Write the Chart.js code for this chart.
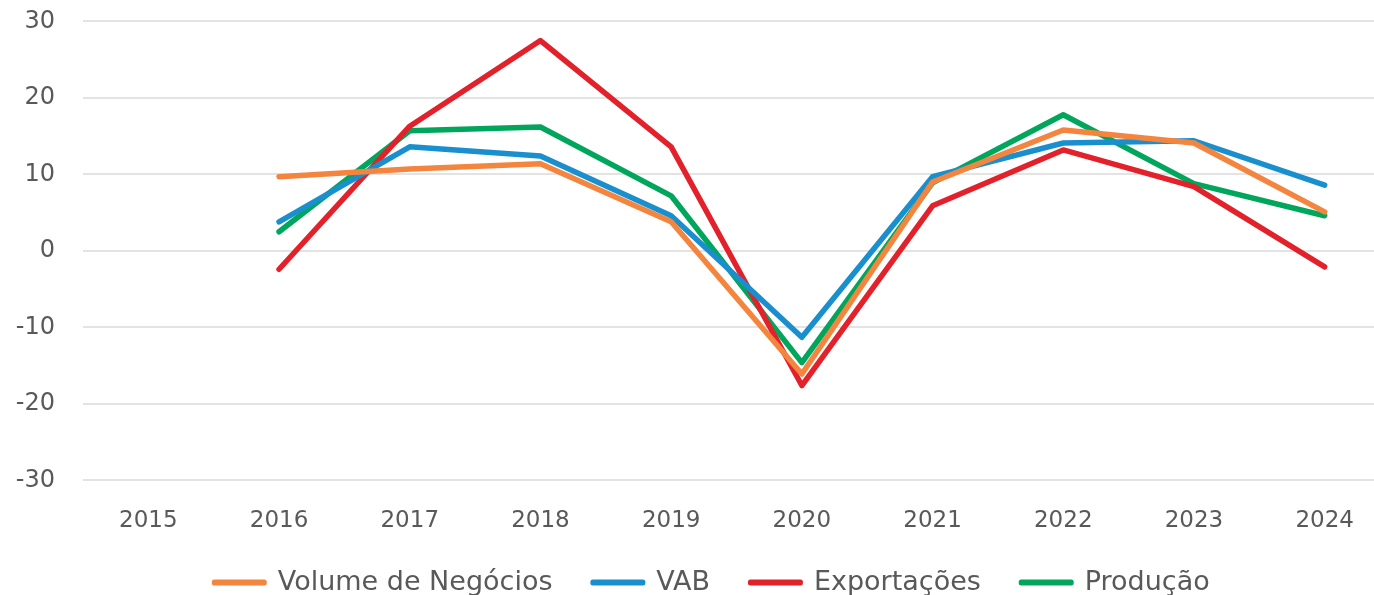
<!DOCTYPE html>
<html>
<head>
<meta charset="utf-8">
<script src="https://cdn.jsdelivr.net/npm/chart.js@4"></script>
<style>
  html, body { margin: 0; padding: 0; background: #fff; overflow: hidden; }
  #wrap { width: 1390px; height: 618px; margin-top: -21px; position: relative; }
</style>
</head>
<body>
<div id="wrap"><canvas id="myChart"></canvas></div>
<script>
const years = ['2015', '2016', '2017', '2018', '2019', '2020', '2021', '2022', '2023', '2024'];

const volumeNegocios = [null, 9.7, 10.7, 11.4, 3.8, -16.1, 9.0, 15.8, 14.1, 5.1];
const vab = [null, 3.8, 13.6, 12.4, 4.6, -11.3, 9.7, 14.1, 14.4, 8.6];
const exportacoes = [null, -2.4, 16.3, 27.5, 13.6, -17.6, 5.9, 13.2, 8.4, -2.1];
const producao = [null, 2.5, 15.7, 16.2, 7.2, -14.6, 8.9, 17.8, 8.8, 4.6];

const yTicks = [-30, -20, -10, 0, 10, 20, 30];

const textColor = '#595959';

function line(label, values, color) {
    return {
        label: label,
        data: values,
        borderColor: color,
        backgroundColor: color,
        borderWidth: 5.5,
        pointRadius: 0,
        tension: 0,
        borderCapStyle: 'round',
        borderJoinStyle: 'round'
    };
}

const data = {
    labels: years,
    datasets: [
        line('Volume de Negócios', volumeNegocios, '#F4853F'),
        line('VAB', vab, '#1A8FCE'),
        line('Exportações', exportacoes, '#E2212B'),
        line('Produção', producao, '#00A65B')
    ]
};

// nudge the legend a bit right and down
const legendShift = {
    id: 'legendShift',
    afterLayout: function (chart) {
        const lg = chart.legend;
        lg.left += 17; lg.right += 17;
        lg.top += 9; lg.bottom += 9;
    }
};

const config = {
    type: 'line',
    data: data,
    plugins: [legendShift],
    options: {
        responsive: true,
        maintainAspectRatio: false,
        animation: false,
        layout: { padding: 0 },
        plugins: {
            tooltip: { enabled: false },
            legend: {
                position: 'bottom',
                labels: {
                    color: textColor,
                    font: { family: 'DejaVu Sans', size: 27 },
                    boxWidth: 50,
                    boxHeight: 1,
                    padding: 6,
                    // thin rounded line swatch + extra spacing between entries
                    generateLabels: function (chart) {
                        const items = Chart.defaults.plugins.legend.labels.generateLabels(chart);
                        items.forEach(function (it, i) {
                            it.lineWidth = 5;
                            it.lineJoin = 'round';
                            if (i < items.length - 1) it.text = it.text + '    ';
                        });
                        return items;
                    }
                }
            }
        },
        scales: {
            x: {
                offset: true,
                grid: { display: false },
                border: { display: false },
                ticks: {
                    color: textColor,
                    font: { family: 'DejaVu Sans', size: 23 },
                    padding: 19
                }
            },
            y: {
                min: -30,
                max: 30,
                afterBuildTicks: function (axis) {
                    axis.ticks = yTicks.map(function (v) { return { value: v }; });
                },
                afterFit: function (axis) { axis.width = 83; },
                grid: { color: '#E3E3E3', lineWidth: 2, drawTicks: false },
                border: { display: false },
                ticks: {
                    color: textColor,
                    font: { family: 'DejaVu Sans', size: 24 },
                    padding: 28
                }
            }
        }
    }
};

const myChart = new Chart(document.getElementById('myChart'), config);
</script>
</body>
</html>
